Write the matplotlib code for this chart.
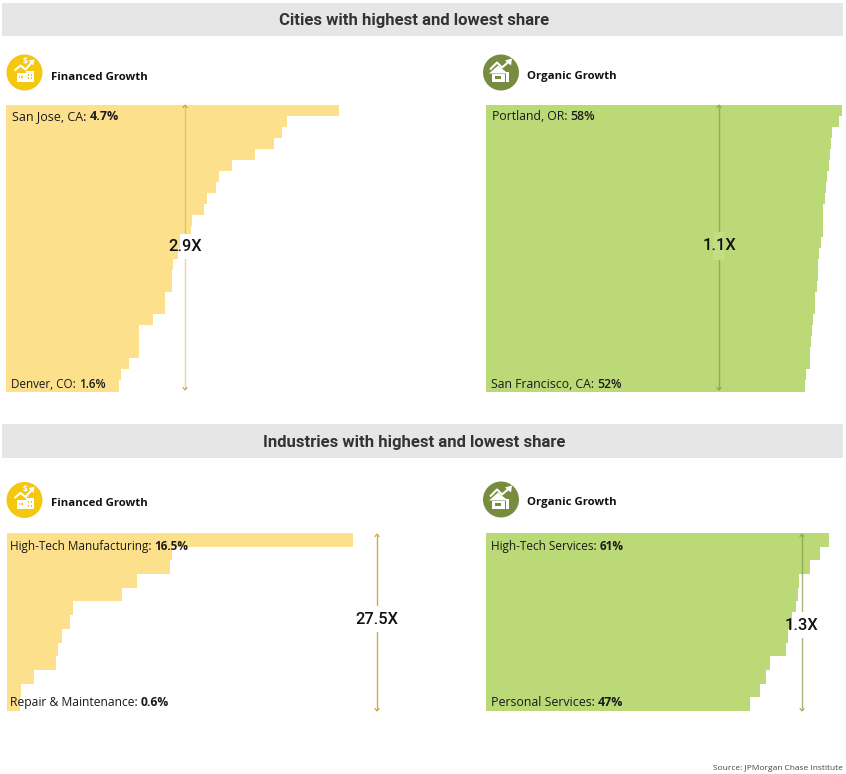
import matplotlib
matplotlib.use("Agg")
import matplotlib.pyplot as plt
from matplotlib.patches import Circle, Rectangle, Polygon

W, H = 846, 774
FONT = "Open Sans"
HEAD = "Roboto"
plt.rcParams["font.family"] = [FONT, "DejaVu Sans"]

city_financed = [4.70, 3.96, 3.90, 3.78, 3.52, 3.19, 3.00, 2.97, 2.83, 2.79, 2.62, 2.61, 2.46,
                 2.43, 2.36, 2.34, 2.34, 2.24, 2.24, 2.08, 1.88, 1.88, 1.88, 1.74, 1.62, 1.60]
city_organic = [58.0, 57.5, 56.3, 56.2, 56.1, 55.9, 55.6, 55.4, 55.2, 54.9, 54.9, 54.9, 54.6,
                54.3, 54.1, 54.1, 53.9, 53.6, 53.6, 53.3, 53.1, 52.9, 52.8, 52.8, 52.1, 52.0]
industry_financed = [16.5, 7.86, 7.80, 6.21, 5.47, 3.13, 2.99, 2.63, 2.43, 2.34, 1.30, 0.65, 0.60]
industry_organic = [61.0, 59.4, 57.6, 55.8, 55.5, 55.1, 54.4, 53.8, 53.4, 50.6, 49.9, 48.8, 47.0]

YELLOW, GREEN = "#FDE08B", "#BBD977"
ARROW_Y, ARROW_G = "#C98A10", "#7F9C45"


def panel_axes(fig, left, top, right, bottom, vmax, values, color):
    ax = fig.add_axes([left / W, 1 - bottom / H, (right - left) / W, (bottom - top) / H])
    ax.barh(range(len(values)), values, height=1.0, color=color, linewidth=0)
    ax.set_xlim(0, vmax)
    ax.set_ylim(len(values) - 0.5, -0.5)
    ax.axis("off")
    return ax


fig = plt.figure(figsize=(W / 100, H / 100), dpi=100, facecolor="white")
panel_axes(fig, 6, 105, 339, 391.5, 4.70, city_financed, YELLOW)
panel_axes(fig, 486, 105, 842, 391.5, 58.0, city_organic, GREEN)
panel_axes(fig, 7, 533, 352.7, 711, 16.5, industry_financed, YELLOW)
panel_axes(fig, 486, 533, 828.7, 711, 61.0, industry_organic, GREEN)

ov = fig.add_axes([0, 0, 1, 1], zorder=5)
ov.set_xlim(0, W)
ov.set_ylim(H, 0)
ov.axis("off")
ov.patch.set_alpha(0)

for top, bottom, title in [(3, 36, "Cities with highest and lowest share"),
                           (424, 458, "Industries with highest and lowest share")]:
    ov.add_patch(Rectangle((2, top), 841, bottom - top, fc="#E5E6E5", ec="none"))
    ov.text(414, (top + bottom) / 2, title, ha="center", va="center_baseline",
            fontsize=12, fontweight="bold", color="#333333", family=[HEAD, "DejaVu Sans"])


def financed_icon(cx, cy):
    ov.add_patch(Circle((cx, cy), 18, fc="#F6C710", ec="none"))
    ov.add_patch(Rectangle((cx - 8, cy + 0), 9, 9, fc="white", ec="none"))
    ov.add_patch(Rectangle((cx + 1, cy - 2), 8.5, 11, fc="white", ec="none"))
    for dx, dy in [(-6, 3), (-3.5, 3), (3, 1), (6, 1), (3, 4.5), (6, 4.5)]:
        ov.add_patch(Rectangle((cx + dx, cy + dy), 1.5, 2, fc="#F6C710", ec="none"))
    ov.plot([cx - 10, cx - 4, cx + 1, cx + 8], [cy - 2, cy - 7, cy - 3, cy - 11],
            color="white", lw=1.5, solid_capstyle="butt")
    ov.add_patch(Polygon([(cx + 4, cy - 12), (cx + 10, cy - 13), (cx + 9, cy - 7)], fc="white", ec="none"))
    ov.text(cx + 0.5, cy - 11, "$", ha="center", va="center", fontsize=6, fontweight="bold", color="white")


def organic_icon(cx, cy):
    ov.add_patch(Circle((cx, cy), 18, fc="#788C3F", ec="none"))
    ov.add_patch(Polygon([(cx - 12, cy + 1), (cx - 3, cy - 7), (cx + 7, cy + 1)], fc="white", ec="none"))
    ov.add_patch(Rectangle((cx - 9, cy + 1), 13, 8, fc="white", ec="none"))
    ov.add_patch(Rectangle((cx - 6, cy + 3), 6, 3, fc="#788C3F", ec="none"))
    ov.add_patch(Rectangle((cx + 5, cy - 1), 3, 10, fc="white", ec="none"))
    ov.plot([cx - 11, cx - 4, cx + 1, cx + 8], [cy - 3, cy - 10, cy - 5, cy - 11],
            color="white", lw=1.5, solid_capstyle="butt")
    ov.add_patch(Polygon([(cx + 4, cy - 12), (cx + 11, cy - 14), (cx + 10, cy - 7)], fc="white", ec="none"))


financed_icon(24.5, 72.5)
organic_icon(501, 72.5)
financed_icon(24.5, 500)
organic_icon(501, 499.5)

for x, y, s in [(51, 75.5, "Financed Growth"), (527, 75.5, "Organic Growth"),
                (51, 502.5, "Financed Growth"), (527, 501.5, "Organic Growth")]:
    ov.text(x, y, s, ha="left", va="center_baseline", fontsize=8.2, fontweight="bold", color="#111111")


def label(x, y, name, val, weight="bold", size=8.8):
    t = ov.text(x, y, name + " ", ha="left", va="center_baseline", fontsize=size, color="#1a1a1a")
    ov.annotate(val, xy=(1, 0), xycoords=t, va="bottom", ha="left", fontsize=size,
                fontweight=weight, color="#1a1a1a")


label(12, 115, "San Jose, CA:", "4.7%", size=9.0)
label(11, 383, "Denver, CO:", "1.6%", "semibold", size=8.4)
label(492, 115, "Portland, OR:", "58%", "semibold")
label(491, 383, "San Francisco, CA:", "52%", "semibold")
label(10, 545, "High-Tech Manufacturing:", "16.5%", size=8.5)
label(10, 701, "Repair & Maintenance:", "0.6%", size=8.7)
label(491, 545, "High-Tech Services:", "61%", size=8.5)
label(491, 701, "Personal Services:", "47%", size=8.9)


def ratio(x, top, bottom, text, color, box, alpha, tx=None):
    ov.plot([x, x], [top + 1, bottom - 1], color=color, lw=1.0, alpha=alpha, solid_capstyle="butt", zorder=2)
    for yy, d in [(top, 1), (bottom, -1)]:
        ov.plot([x - 2, x, x + 2], [yy + 2.5 * d, yy, yy + 2.5 * d], color=color, lw=0.8, alpha=0.8, zorder=2)
    ov.add_patch(Rectangle((box[0], box[1]), box[2] - box[0], box[3] - box[1],
                           fc=box[5], ec="none", zorder=3))
    ov.text(tx if tx else x, (box[1] + box[3]) / 2 - 1.5, text, ha="center", va="center_baseline",
            fontsize=11.8, fontweight="medium", color="#111111", family=[HEAD, "DejaVu Sans"], zorder=4)


ratio(185, 105, 390, "2.9X", ARROW_Y, (180, 234, 192, 259, 1.0, "white"), 0.38)
ratio(719, 105, 390, "1.1X", ARROW_G, (713, 232, 724, 260, 1.0, "#C2DD85"), 0.7)
ratio(377, 534, 711, "27.5X", ARROW_Y, (360, 606, 398, 632, 1.0, "white"), 0.75)
ratio(802, 534, 711, "1.3X", ARROW_G, (792, 612, 812, 638, 1.0, "white"), 0.7)

ov.text(843, 767, "Source: JPMorgan Chase Institute", ha="right", va="center_baseline",
        fontsize=6.0, color="#444444")

fig.savefig("out.png", dpi=100, facecolor="white")
